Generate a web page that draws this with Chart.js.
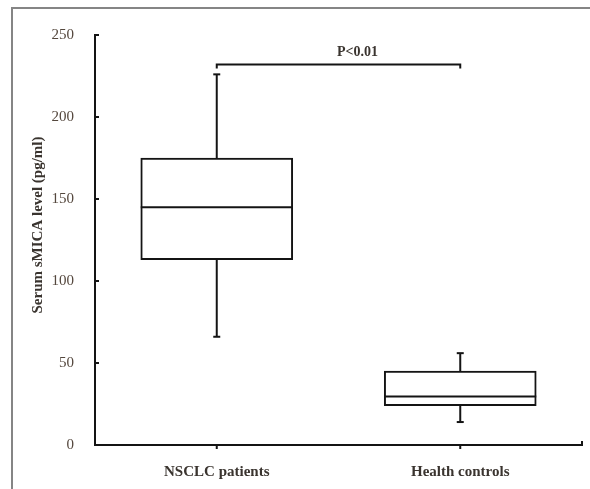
<!DOCTYPE html>
<html>
<head>
<meta charset="utf-8">
<script src="https://cdn.jsdelivr.net/npm/chart.js@4"></script>
<style>
    html, body { margin: 0; padding: 0; background: #fff; }
    #wrap { position: relative; width: 590px; height: 489px; }
    #frame {
        position: absolute; left: 11px; top: 7px; right: 0; bottom: 0;
        border-left: 2px solid #858585; border-top: 2px solid #858585;
        pointer-events: none;
    }
</style>
</head>
<body>
<div id="wrap">
    <canvas id="chart" width="590" height="489"></canvas>
    <div id="frame"></div>
</div>
<script>
const categories = ['NSCLC patients', 'Health controls'];
const whiskerLow = [66, 14];
const q1 = [113, 24];
const median = [145, 29.5];
const q3 = [175, 45];
const whiskerHigh = [226, 56];
const yTicks = [0, 50, 100, 150, 200, 250];
const yTitle = 'Serum sMICA level (pg/ml)';
const pLabel = 'P<0.01';
const pBracketY = 232;

const ink = '#141414';
const labelColor = '#54473d';
const serif = "'Liberation Serif', 'DejaVu Serif', serif";

function line(ctx, x1, y1, x2, y2) {
    ctx.beginPath();
    ctx.moveTo(x1, y1);
    ctx.lineTo(x2, y2);
    ctx.stroke();
}

// whiskers, medians, tick marks and the significance bracket
const boxExtras = {
    id: 'boxExtras',
    afterDatasetsDraw(chart) {
        const { ctx, scales: { x, y } } = chart;
        const meta = chart.getDatasetMeta(0);
        ctx.save();
        ctx.strokeStyle = ink;
        ctx.lineWidth = 2;
        ctx.lineCap = 'butt';

        meta.data.forEach((bar, i) => {
            const cx = x.getPixelForValue(i);
            const half = bar.width / 2;
            const yMed = y.getPixelForValue(median[i]);
            line(ctx, bar.x - half, yMed, bar.x + half, yMed);

            const yHi = y.getPixelForValue(whiskerHigh[i]);
            const yLo = y.getPixelForValue(whiskerLow[i]);
            line(ctx, cx, y.getPixelForValue(q3[i]), cx, yHi);
            line(ctx, cx, y.getPixelForValue(q1[i]), cx, yLo);
            line(ctx, cx - 3.5, yHi, cx + 3.5, yHi);
            line(ctx, cx - 3.5, yLo, cx + 3.5, yLo);

            // x tick mark pointing down
            line(ctx, cx, y.bottom, cx, y.bottom + 4);
        });

        // y tick marks pointing into the plot
        yTicks.forEach(v => {
            const py = y.getPixelForValue(v);
            line(ctx, x.left, py, x.left + 4, py);
        });

        // end mark on the x axis
        line(ctx, x.right, y.bottom + 1, x.right, y.bottom - 4);

        // significance bracket
        const bx1 = x.getPixelForValue(0);
        const bx2 = x.getPixelForValue(1);
        const by = y.getPixelForValue(pBracketY);
        ctx.beginPath();
        ctx.moveTo(bx1, by + 4);
        ctx.lineTo(bx1, by);
        ctx.lineTo(bx2, by);
        ctx.lineTo(bx2, by + 4);
        ctx.stroke();

        ctx.fillStyle = '#3a342f';
        ctx.font = 'bold 14px ' + serif;
        ctx.textAlign = 'center';
        ctx.textBaseline = 'bottom';
        ctx.fillText(pLabel, (bx1 + bx2) / 2 + 19, by - 5);

        // y axis title
        ctx.save();
        ctx.translate(38, (y.top + y.bottom) / 2 - 15);
        ctx.rotate(-Math.PI / 2);
        ctx.textBaseline = 'middle';
        ctx.font = 'bold 15px ' + serif;
        ctx.fillText(yTitle, 0, 0);
        ctx.restore();

        ctx.restore();
    }
};

new Chart(document.getElementById('chart'), {
    type: 'bar',
    data: {
        labels: categories,
        datasets: [{
            data: categories.map((c, i) => [q1[i], q3[i]]),
            backgroundColor: '#ffffff',
            borderColor: ink,
            borderWidth: 2,
            borderSkipped: false,
            barThickness: 152
        }]
    },
    options: {
        responsive: false,
        animation: false,
        layout: { padding: { left: 0, right: 8, top: 35, bottom: 0 } },
        plugins: {
            legend: { display: false },
            tooltip: { enabled: false }
        },
        scales: {
            x: {
                grid: { display: false },
                border: { display: true, color: ink, width: 2 },
                ticks: {
                    color: '#3a342f',
                    font: { family: serif, size: 15, weight: 'bold' },
                    padding: 10
                },
                afterFit: s => { s.height = 44; }
            },
            y: {
                min: 0,
                max: 250,
                grid: { display: false },
                border: { display: true, color: ink, width: 2 },
                afterBuildTicks: s => { s.ticks = yTicks.map(v => ({ value: v })); },
                ticks: {
                    color: labelColor,
                    font: { family: serif, size: 15 },
                    padding: 13
                },
                afterFit: s => { s.width = 95; }
            }
        }
    },
    plugins: [boxExtras]
});
</script>
</body>
</html>
